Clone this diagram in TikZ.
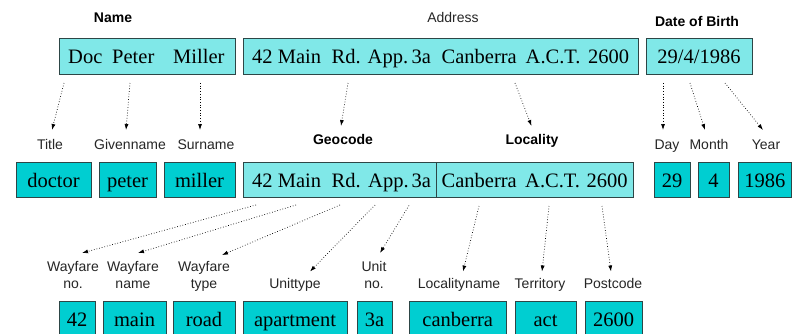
\documentclass[tikz,border=0pt]{standalone}
\usepackage{fontspec}
\setmainfont{Liberation Serif}
\setsansfont{Liberation Sans}
\usetikzlibrary{arrows.meta}
\definecolor{lightc}{RGB}{128,232,232}
\definecolor{darkc}{RGB}{0,206,209}
\definecolor{edgec}{RGB}{45,70,70}
\newcommand\mkbox[7]{\node[#1, minimum width={(#5-#3)*1pt}, minimum height={(#6-#4)*1pt}] (#2) at ({(#3+#5)/2},{(#4+#6)/2}) {#7};}
\begin{document}
\begin{tikzpicture}[x=1pt,y=-1pt,
 box/.style={draw=edgec, line width=1pt, inner sep=0pt, text height=15pt, text depth=0pt, font=\fontsize{20.5}{24}\selectfont},
 lbox/.style={box, fill=lightc},
 dbox/.style={box, fill=darkc},
 wtxt/.style={inner sep=0pt, anchor=base west, font=\fontsize{20.5}{24}\selectfont},
 lab/.style={inner sep=0pt, anchor=base, align=center, font=\sffamily\fontsize{14}{17}\selectfont, text=black!85},
 blab/.style={lab, font=\sffamily\bfseries\fontsize{14}{17}\selectfont, text=black},
 conn/.style={dotted, line width=0.7pt, -{Latex[length=6pt,width=4pt]}},
]
\clip (0,0) rectangle (794,333);
\fill[white] (0,0) rectangle (794,333);
% top labels
\node[blab] (lname) at (113,22) {Name};
\node[lab] (laddr) at (453,22) {Address};
\node[blab] (ldob) at (697,26) {Date of Birth};
% top boxes
\mkbox{lbox}{name}{59}{38}{235}{74}{}
\mkbox{lbox}{addr}{243}{38}{638}{74}{}
\mkbox{lbox}{dob}{646}{38}{752}{74}{29/4/1986}
\node[wtxt] (t1) at (68,63.5) {Doc};
\node[wtxt] (t2) at (112,63.5) {Peter};
\node[wtxt] (t3) at (173,63.5) {Miller};
\node[wtxt] (a1) at (252,63.5) {42 Main};
\node[wtxt] (a2) at (331.5,63.5) {Rd.};
\node[wtxt] (a3) at (367.5,63.5) {App.};
\node[wtxt] (a4) at (411.5,63.5) {3a};
\node[wtxt] (a5) at (441.5,63.5) {Canberra};
\node[wtxt] (a6) at (525.5,63.5) {A.C.T.};
\node[wtxt] (a7) at (588,63.5) {2600};
% middle labels
\node[lab] (ltitle) at (50,149) {Title};
\node[lab] (lgiven) at (130,149) {Givenname};
\node[lab] (lsur) at (206,149) {Surname};
\node[blab] (lgeo) at (343,144) {Geocode};
\node[blab] (lloc) at (532,144) {Locality};
\node[lab] (lday) at (667,149) {Day};
\node[lab] (lmonth) at (709,149) {Month};
\node[lab] (lyear) at (766,149) {Year};
% middle boxes
\mkbox{dbox}{doctor}{16}{162}{91}{197.5}{doctor}
\mkbox{dbox}{peter}{99}{162}{156}{197.5}{peter}
\mkbox{dbox}{miller}{164}{162}{235}{197.5}{miller}
\mkbox{lbox}{geo}{243}{162}{436}{197.5}{}
\mkbox{lbox}{loc}{436}{162}{633}{197.5}{}
\mkbox{dbox}{day}{654}{162}{690}{197.5}{29}
\mkbox{dbox}{month}{698}{162}{729}{197.5}{4}
\mkbox{dbox}{year}{738}{162}{791.5}{197.5}{1986}
\node[wtxt] (g1) at (252,187.2) {42 Main};
\node[wtxt] (g2) at (331.5,187.2) {Rd.};
\node[wtxt] (g3) at (368,187.2) {App.};
\node[wtxt] (g4) at (411.5,187.2) {3a};
\node[wtxt] (c1) at (441.5,187.2) {Canberra};
\node[wtxt] (c2) at (525,187.2) {A.C.T.};
\node[wtxt] (c3) at (586.5,187.2) {2600};
% bottom labels (base anchor = last line)
\node[lab] (lwno) at (73,288) {Wayfare\\no.};
\node[lab] (lwname) at (133,288) {Wayfare\\name};
\node[lab] (lwtype) at (204,288) {Wayfare\\type};
\node[lab] (lutype) at (295,288) {Unittype};
\node[lab] (luno) at (374,288) {Unit\\no.};
\node[lab] (llname) at (459,288) {Localityname};
\node[lab] (lterr) at (540,288) {Territory};
\node[lab] (lpost) at (613,288) {Postcode};
% bottom boxes
\mkbox{dbox}{b42}{59}{301.5}{95}{336.5}{42}
\mkbox{dbox}{bmain}{103}{301.5}{166}{336.5}{main}
\mkbox{dbox}{broad}{173}{301.5}{235}{336.5}{road}
\mkbox{dbox}{bapt}{243}{301.5}{347}{336.5}{apartment}
\mkbox{dbox}{b3a}{357}{301.5}{392}{336.5}{3a}
\mkbox{dbox}{bcan}{409.5}{301.5}{506}{336.5}{canberra}
\mkbox{dbox}{bact}{515}{301.5}{576}{336.5}{act}
\mkbox{dbox}{b2600}{585}{301.5}{642}{336.5}{2600}
% connector end points
\coordinate (s1) at (64,83);   \coordinate (e1) at (52,130);
\coordinate (s2) at (130,83);  \coordinate (e2) at (126,130);
\coordinate (s3) at (200,83);  \coordinate (e3) at (200,130);
\coordinate (s4) at (348,83);  \coordinate (e4) at (341,126);
\coordinate (s5) at (515,83);  \coordinate (e5) at (531.5,126);
\coordinate (s6) at (663,83);  \coordinate (e6) at (663,130);
\coordinate (s7) at (690,83);  \coordinate (e7) at (705,130);
\coordinate (s8) at (725,83);  \coordinate (e8) at (763,130);
\coordinate (s9) at (256,205);  \coordinate (e9) at (82,253);
\coordinate (s10) at (296,205); \coordinate (e10) at (138,253);
\coordinate (s11) at (340,205); \coordinate (e11) at (222,255);
\coordinate (s12) at (375,205); \coordinate (e12) at (310,271.5);
\coordinate (s13) at (409,205.5); \coordinate (e13) at (380,253);
\coordinate (s14) at (479,206); \coordinate (e14) at (463,271.5);
\coordinate (s15) at (549,206); \coordinate (e15) at (542,271.5);
\coordinate (s16) at (602,206); \coordinate (e16) at (611,271.5);
\foreach \i in {1,...,16} { \draw[conn] (s\i) -- (e\i); }
\end{tikzpicture}
\end{document}
